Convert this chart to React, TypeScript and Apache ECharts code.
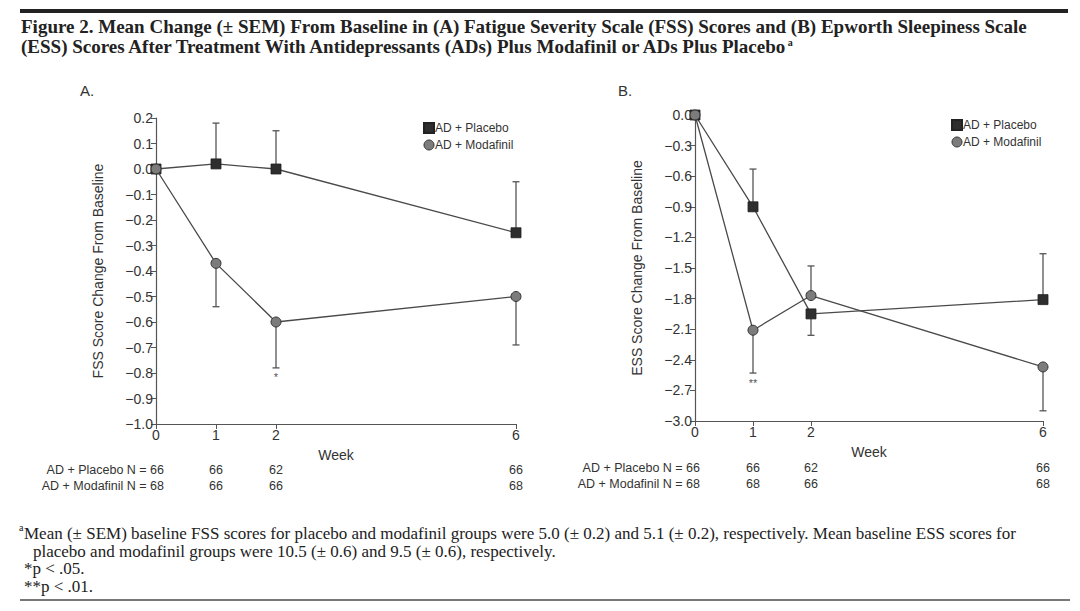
import React, { useEffect, useRef } from "react";
import * as echarts from "echarts";

const weeks = [0, 1, 2, 6];
const weekTickLabels = ["0", "1", "2", "6"];
const seriesNames = ["AD + Placebo", "AD + Modafinil"];

// Panel A: FSS change
const fssPlacebo = [0, 0.02, 0.0, -0.25];
const fssPlaceboBarEnd = [null, 0.18, 0.15, -0.05];
const fssModafinil = [0, -0.37, -0.6, -0.5];
const fssModafinilBarEnd = [null, -0.54, -0.78, -0.69];

// Panel B: ESS change
const essPlacebo = [0, -0.9, -1.95, -1.81];
const essPlaceboBarEnd = [null, -0.53, -2.16, -1.36];
const essModafinil = [0, -2.11, -1.77, -2.47];
const essModafinilBarEnd = [null, -2.53, -1.48, -2.9];

// N per group at each week
const nPlaceboA = [66, 66, 62, 66];
const nModafinilA = [68, 66, 66, 68];
const nPlaceboB = [66, 66, 62, 66];
const nModafinilB = [68, 68, 66, 68];

// significance markers
const sigA = [{ week: 2, at: -0.78, mark: "*" }];
const sigB = [{ week: 1, at: -2.53, mark: "**" }];

const titleLines = [
  "Figure 2. Mean Change (± SEM) From Baseline in (A) Fatigue Severity Scale (FSS) Scores and (B) Epworth Sleepiness Scale",
  "(ESS) Scores After Treatment With Antidepressants (ADs) Plus Modafinil or ADs Plus Placebo",
];
const footnotes = [
  "Mean (± SEM) baseline FSS scores for placebo and modafinil groups were 5.0 (± 0.2) and 5.1 (± 0.2), respectively. Mean baseline ESS scores for",
  "placebo and modafinil groups were 10.5 (± 0.6) and 9.5 (± 0.6), respectively.",
  "*p < .05.",
  "**p < .01.",
];

const SANS = '"Liberation Sans", Arial, sans-serif';
const SERIF = '"Liberation Serif", "Times New Roman", serif';
const AXIS = "#555";
const TXT = "#333";
const LINE = "#4a4a4a";
const SQ = "#2e2e2e";
const CI = "#7c7c7c";
const TITLE_FONT = `bold 19px ${SERIF}`;
const NOTE_FONT = `17px ${SERIF}`;

const fmt = (v: number) => {
  const s = Math.abs(v).toFixed(1);
  return v < -1e-9 ? "\u2212" + s : s;
};

function errorSeries(xAxisIndex: number, ys: number[], ends: (number | null)[]) {
  const data = weeks
    .map((w, i) => (ends[i] == null ? null : [w, ys[i], ends[i]]))
    .filter((d) => d != null);
  return {
    type: "custom",
    xAxisIndex,
    yAxisIndex: xAxisIndex,
    z: 1,
    silent: true,
    data,
    renderItem: (params: any, api: any) => {
      const p0 = api.coord([api.value(0), api.value(1)]);
      const p1 = api.coord([api.value(0), api.value(2)]);
      const st = { stroke: "#555", lineWidth: 1.3 };
      return {
        type: "group",
        children: [
          { type: "line", shape: { x1: p0[0], y1: p0[1], x2: p1[0], y2: p1[1] }, style: st },
          { type: "line", shape: { x1: p1[0] - 3.5, y1: p1[1], x2: p1[0] + 3.5, y2: p1[1] }, style: st },
        ],
      };
    },
  };
}

function lineSeries(idx: number, name: string, ys: number[], placebo: boolean) {
  return {
    type: "line",
    name,
    xAxisIndex: idx,
    yAxisIndex: idx,
    z: placebo ? 2 : 3,
    data: weeks.map((w, i) => [w, ys[i]]),
    symbol: placebo ? "rect" : "circle",
    symbolSize: 10,
    showAllSymbol: true,
    lineStyle: { color: LINE, width: 1.3 },
    itemStyle: placebo
      ? { color: SQ, borderColor: "#222", borderWidth: 0.8 }
      : { color: CI, borderColor: "#333", borderWidth: 1 },
    emphasis: { disabled: true },
  };
}

function xAxis(gridIndex: number, nameGap: number) {
  return {
    type: "value",
    gridIndex,
    min: 0,
    max: 6,
    interval: 1,
    axisLine: { show: true, onZero: false, lineStyle: { color: AXIS, width: 1.2 } },
    axisTick: { show: true, length: 5, customValues: weeks, lineStyle: { color: AXIS } },
    axisLabel: {
      customValues: weeks,
      formatter: (v: number) => weekTickLabels[weeks.indexOf(v)] ?? "",
      color: TXT,
      fontFamily: SANS,
      fontSize: 14,
      margin: 4,
    },
    splitLine: { show: false },
    name: "Week",
    nameLocation: "middle",
    nameGap,
    nameTextStyle: { color: TXT, fontFamily: SANS, fontSize: 14 },
  };
}

function yAxis(gridIndex: number, min: number, max: number, interval: number, name: string) {
  return {
    type: "value",
    gridIndex,
    min,
    max,
    interval,
    axisLine: { show: true, onZero: false, lineStyle: { color: AXIS, width: 1.2 } },
    axisTick: { show: true, length: 5, lineStyle: { color: AXIS } },
    axisLabel: { formatter: fmt, color: TXT, fontFamily: SANS, fontSize: 14, margin: 3 },
    splitLine: { show: false },
    name,
    nameLocation: "middle",
    nameGap: 51,
    nameTextStyle: { color: TXT, fontFamily: SANS, fontSize: 14 },
  };
}

function legend(left: number, top: number) {
  return {
    left,
    top,
    orient: "vertical",
    itemWidth: 10,
    itemHeight: 10,
    itemGap: 5,
    selectedMode: false,
    textStyle: { color: TXT, fontFamily: SANS, fontSize: 12, padding: [0, 0, 0, -4] },
    data: [
      { name: seriesNames[0], icon: "rect", itemStyle: { color: SQ } },
      { name: seriesNames[1], icon: "circle", itemStyle: { color: CI, borderColor: "#333", borderWidth: 1 } },
    ],
  };
}

export default function App() {
  const ref = useRef<HTMLDivElement>(null);
  useEffect(() => {
    document.body.style.margin = "0";
    const chart = echarts.init(ref.current!, undefined, { renderer: "svg" });
    const option: any = {
      animation: false,
      backgroundColor: "#fff",
      grid: [
        { left: 156, top: 118, width: 360, height: 306 },
        { left: 695, top: 115, width: 348, height: 306 },
      ],
      xAxis: [xAxis(0, 24), xAxis(1, 24)],
      yAxis: [
        yAxis(0, -1.0, 0.2, 0.1, "FSS Score Change From Baseline"),
        yAxis(1, -3.0, 0, 0.3, "ESS Score Change From Baseline"),
      ],
      legend: [legend(418, 117), legend(946, 114)],
      series: [
        errorSeries(0, fssPlacebo, fssPlaceboBarEnd),
        errorSeries(0, fssModafinil, fssModafinilBarEnd),
        lineSeries(0, seriesNames[0], fssPlacebo, true),
        lineSeries(0, seriesNames[1], fssModafinil, false),
        errorSeries(1, essPlacebo, essPlaceboBarEnd),
        errorSeries(1, essModafinil, essModafinilBarEnd),
        lineSeries(1, seriesNames[0], essPlacebo, true),
        lineSeries(1, seriesNames[1], essModafinil, false),
      ],
    };
    chart.setOption(option);

    const ctx = document.createElement("canvas").getContext("2d")!;
    ctx.font = TITLE_FONT;
    const tw = ctx.measureText(titleLines[1]).width;

    const g: any[] = [];
    // top rule and title
    g.push({ type: "rect", shape: { x: 20, y: 9, width: 1048, height: 4 }, style: { fill: "#222" } });
    titleLines.forEach((t, i) =>
      g.push({
        type: "text",
        x: 21,
        y: 17 + i * 20,
        style: { text: t, fill: "#222", font: TITLE_FONT },
      })
    );
    g.push({ type: "text", x: 21 + tw - 2, y: 37, style: { text: "a", fill: "#222", font: `bold 10px ${SERIF}` } });
    // panel labels
    g.push({ type: "text", x: 80, y: 83, style: { text: "A.", fill: TXT, font: `15px ${SANS}` } });
    g.push({ type: "text", x: 618, y: 83, style: { text: "B.", fill: TXT, font: `15px ${SANS}` } });

    // significance marks
    const sig = (gi: number, arr: typeof sigA) =>
      arr.forEach((s) => {
        const p = chart.convertToPixel({ gridIndex: gi } as any, [s.week, s.at]) as number[];
        g.push({
          type: "text",
          x: p[0],
          y: p[1] + 4,
          style: { text: s.mark, fill: "#555", font: `11px ${SANS}`, align: "center", verticalAlign: "top" },
        });
      });
    sig(0, sigA);
    sig(1, sigB);

    // N tables
    const nTable = (gi: number, labelRight: number, pl: number[], mo: number[], y0: number) => {
      const f = `12.5px ${SANS}`;
      g.push({
        type: "text",
        x: labelRight,
        y: y0,
        style: { text: `${seriesNames[0]} N = ${pl[0]}`, fill: TXT, font: f, align: "right", verticalAlign: "middle" },
      });
      g.push({
        type: "text",
        x: labelRight,
        y: y0 + 16,
        style: { text: `${seriesNames[1]} N = ${mo[0]}`, fill: TXT, font: f, align: "right", verticalAlign: "middle" },
      });
      weeks.forEach((w, i) => {
        if (i === 0) return;
        const p = chart.convertToPixel({ gridIndex: gi } as any, [w, 0]) as number[];
        g.push({ type: "text", x: p[0], y: y0, style: { text: String(pl[i]), fill: TXT, font: f, align: "center", verticalAlign: "middle" } });
        g.push({ type: "text", x: p[0], y: y0 + 16, style: { text: String(mo[i]), fill: TXT, font: f, align: "center", verticalAlign: "middle" } });
      });
    };
    nTable(0, 164, nPlaceboA, nModafinilA, 470);
    nTable(1, 700, nPlaceboB, nModafinilB, 468);

    // footnotes
    const fy = [533, 551, 568, 586];
    footnotes.forEach((t, i) => {
      const x = i === 1 ? 33 : 24;
      g.push({ type: "text", x, y: fy[i], style: { text: t, fill: "#222", font: NOTE_FONT, verticalAlign: "middle" } });
    });
    g.push({ type: "text", x: 19, y: 527, style: { text: "a", fill: "#222", font: `10px ${SERIF}`, verticalAlign: "middle" } });
    g.push({ type: "rect", shape: { x: 20, y: 599, width: 1050, height: 2 }, style: { fill: "#777" } });

    chart.setOption({ graphic: g });

    return () => chart.dispose();
  }, []);
  return <div ref={ref} style={{ width: 1080, height: 611 }} />;
}
